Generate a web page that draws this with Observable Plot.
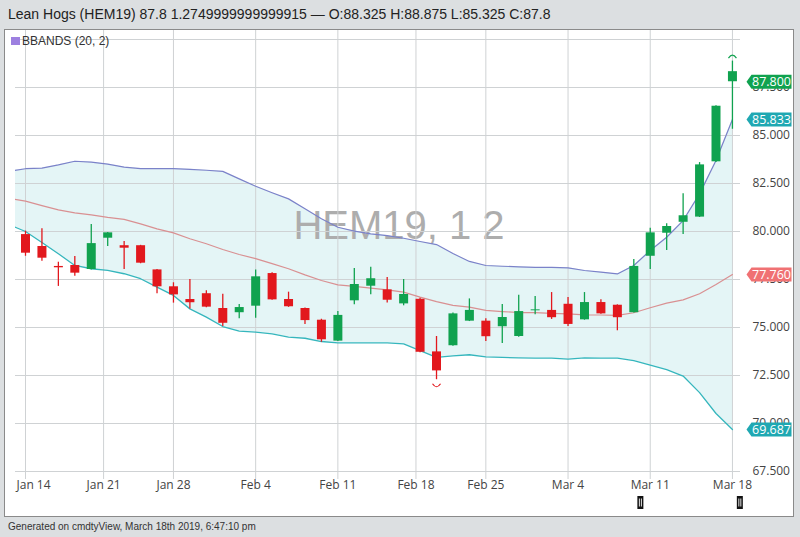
<!DOCTYPE html>
<html><head><meta charset="utf-8">
<script src="https://cdn.jsdelivr.net/npm/d3@7"></script>
<script src="https://cdn.jsdelivr.net/npm/@observablehq/plot@0.6"></script>
<style>
html,body{margin:0;padding:0;background:#dcdfe1;width:800px;height:537px;overflow:hidden;font-family:"Liberation Sans",Arial,sans-serif;}
#header{position:absolute;left:8px;top:4px;font-size:14px;color:#222;line-height:20px;white-space:nowrap;}
#panel{position:absolute;left:4px;top:29px;width:788px;height:486px;background:#fff;border:1px solid #8a8a8a;}
#panel svg{position:absolute;left:0;top:0;}
#legend{position:absolute;left:6px;top:4px;font-size:12px;color:#333;line-height:15px;white-space:nowrap;}
#legend span.sw{display:inline-block;width:9px;height:8px;background:#9d80e0;margin-right:2px;vertical-align:0px;}
#footer{position:absolute;left:8px;top:521px;font-size:10px;color:#333;white-space:nowrap;}
</style></head>
<body>
<div id="header">Lean Hogs (HEM19) 87.8 1.2749999999999915 — O:88.325 H:88.875 L:85.325 C:87.8</div>
<div id="panel"><div id="chart"></div><div id="legend"><span class="sw"></span>BBANDS (20, 2)</div></div>
<div id="footer">Generated on cmdtyView, March 18th 2019, 6:47:10 pm</div>
<script>
// ---- data ----
const dates = ["2019-01-14","2019-01-15","2019-01-16","2019-01-17","2019-01-18","2019-01-22","2019-01-23","2019-01-24","2019-01-25","2019-01-28","2019-01-29","2019-01-30","2019-01-31","2019-02-01","2019-02-04","2019-02-05","2019-02-06","2019-02-07","2019-02-08","2019-02-11","2019-02-12","2019-02-13","2019-02-14","2019-02-15","2019-02-19","2019-02-20","2019-02-21","2019-02-22","2019-02-25","2019-02-26","2019-02-27","2019-02-28","2019-03-01","2019-03-04","2019-03-05","2019-03-06","2019-03-07","2019-03-08","2019-03-11","2019-03-12","2019-03-13","2019-03-14","2019-03-15","2019-03-18"];
const open  = [79.84,79.22,78.18,78.23,78.02,79.65,79.26,79.26,78.00,77.12,76.46,76.76,75.99,75.77,76.11,77.81,76.46,75.99,75.38,74.29,76.39,77.15,76.96,76.23,76.47,73.73,74.05,75.33,75.33,75.04,74.53,75.87,75.89,76.21,75.40,76.30,76.16,75.77,78.71,79.91,80.48,80.75,83.63,88.325];
const high  = [80.02,80.14,78.40,78.70,80.36,79.95,79.48,79.28,78.02,77.33,77.50,76.91,76.73,76.20,78.00,77.85,76.84,76.01,75.43,75.83,78.07,78.14,77.60,77.50,76.52,74.53,75.75,76.49,75.45,76.20,76.68,76.61,76.82,76.56,76.82,76.44,76.18,78.54,80.17,80.40,81.96,83.59,86.55,88.875];
const low   = [78.71,78.45,77.14,77.67,78.00,79.22,78.02,78.32,76.76,76.27,75.97,76.03,75.05,75.45,75.48,76.42,76.05,75.16,74.23,74.27,76.18,76.70,76.27,76.13,73.69,72.28,74.03,75.31,74.27,74.17,74.49,75.66,75.42,75.05,75.38,75.69,74.83,75.75,78.02,79.01,79.84,80.73,83.60,85.325];
const close = [78.87,78.61,78.11,77.83,79.37,79.93,79.13,78.35,77.12,76.70,76.29,76.06,75.22,76.04,77.64,76.44,76.08,75.36,74.36,75.63,77.24,77.54,76.42,76.72,73.71,72.74,75.71,75.89,74.52,75.52,75.83,75.92,75.51,75.16,76.30,75.71,75.51,78.18,79.93,80.26,80.82,83.47,86.525,87.8];

// Bollinger bands (20, 2); first value is the session before Jan 14
const bandStartDate = "2019-01-11";
const upper  = [83.13,83.27,83.30,83.47,83.66,83.61,83.51,83.35,83.28,83.27,83.27,83.24,83.19,83.13,82.74,82.36,82.02,81.70,81.18,80.66,80.22,80.02,79.88,79.79,79.65,79.48,79.32,78.85,78.44,78.23,78.19,78.16,78.13,78.13,78.11,77.97,77.88,77.79,78.23,79.01,79.70,80.57,81.96,83.70,85.833];
const middle = [81.72,81.58,81.35,81.13,80.97,80.87,80.74,80.63,80.40,80.14,79.93,79.62,79.36,79.06,78.80,78.59,78.33,78.06,77.74,77.45,77.22,77.14,77.05,76.96,76.84,76.58,76.35,76.15,76.06,75.89,75.83,75.78,75.77,75.74,75.71,75.66,75.65,75.63,75.77,76.03,76.27,76.44,76.76,77.24,77.76];
const lower  = [80.36,80.00,79.43,78.84,78.23,78.06,77.97,77.80,77.54,77.10,76.67,75.97,75.54,75.05,74.81,74.76,74.67,74.50,74.44,74.27,74.20,74.20,74.20,74.20,74.15,73.80,73.44,73.52,73.58,73.47,73.44,73.42,73.41,73.40,73.35,73.42,73.41,73.40,73.28,73.04,72.81,72.47,71.61,70.52,69.687];

const tickDates  = ["2019-01-14","2019-01-21","2019-01-28","2019-02-04","2019-02-11","2019-02-18","2019-02-25","2019-03-04","2019-03-11","2019-03-18"];
const tickLabels = ["Jan 14","Jan 21","Jan 28","Feb 4","Feb 11","Feb 18","Feb 25","Mar 4","Mar 11","Mar 18"];
const yTicks = [67.5,70,72.5,75,77.5,80,82.5,85,87.5];
const yGrid  = [67.5,70,72.5,75,77.5,80,82.5,85,87.5,90];
const eventPos = [37.4, 43.45]; // event markers under the axis (session index)
const symbolName = "HEM19, 1 2";

// ---- derived ----
const GREEN = "#10a24f", RED = "#e2181d";
const candles = dates.map((d, i) => {
  const prev = i > 0 ? close[i - 1] : open[i];
  return {i, d, o: open[i], h: high[i], l: low[i], c: close[i], col: close[i] >= prev ? GREEN : RED};
});
const bands = [bandStartDate, ...dates].map((d, k) => ({i: k - 1, upper: upper[k], middle: middle[k], lower: lower[k]}));
const tickPos = tickDates.map(t => {
  const k = dates.indexOf(t);
  if (k >= 0) return k;
  return dates.findIndex(d => d > t) - 0.25;
});
const ticks = tickPos.map((p, k) => ({p, label: tickLabels[k]}));
const last = bands[bands.length - 1];
const badges = [
  {v: close[close.length - 1], col: GREEN},
  {v: last.upper, col: "#1fa8b2"},
  {v: last.middle, col: "#f07173"},
  {v: last.lower, col: "#1fa8b2"}
];
const hiIdx = d3.maxIndex(high), loIdx = d3.minIndex(low);
const extremes = [
  {i: hiIdx, y: high[hiIdx], col: candles[hiIdx].col, kind: "hi"},
  {i: loIdx, y: low[loIdx], col: candles[loIdx].col, kind: "lo"}
];

const frown = {draw(ctx){ ctx.moveTo(-4, 2); ctx.quadraticCurveTo(0, -4, 4, 2); }};
const smile = {draw(ctx){ ctx.moveTo(-4, -2); ctx.quadraticCurveTo(0, 4, 4, -2); }};
const badgeShape = {draw(ctx){ ctx.moveTo(6, 0); ctx.lineTo(11, -7); ctx.lineTo(51, -7); ctx.lineTo(51, 7); ctx.lineTo(11, 7); ctx.closePath(); }};
const iconBox = {draw(ctx){ ctx.moveTo(-3, -6.5); ctx.lineTo(3, -6.5); ctx.lineTo(3, 6.5); ctx.lineTo(-3, 6.5); ctx.closePath(); }};
const iconBars = {draw(ctx){ ctx.moveTo(-1, -4); ctx.lineTo(-1, 4); ctx.moveTo(1, -4); ctx.lineTo(1, 4); }};

const W = 788, H = 486;
const chart = Plot.plot({
  width: W, height: H,
  marginLeft: 10, marginRight: 53, marginTop: 0, marginBottom: 45,
  style: {fontFamily: "'Open Sans', sans-serif", fontSize: "12px", color: "#444", background: "transparent", overflow: "visible"},
  x: {domain: [-0.608, 43.49], axis: null},
  y: {domain: [67.5, 90.469], axis: "right", ticks: yTicks, tickFormat: d3.format(".3f"), tickSize: 0, tickPadding: 12, label: null},
  color: {type: "identity"},
  marks: [
    Plot.areaY(bands, {x: "i", y1: "lower", y2: "upper", fill: "#e4f5f6", clip: true}),
    Plot.text([symbolName], {frameAnchor: "middle", dx: 21, dy: -25, fontSize: 40, fontFamily: "'Liberation Sans', Arial, sans-serif", fill: "#adadad", text: d => d}),
    Plot.ruleY(yGrid, {stroke: "#cfd2d4", strokeWidth: 1}),
    Plot.ruleX(tickPos, {stroke: "#cfd2d4", strokeWidth: 1, insetBottom: -8}),
    // x tick labels (first one is pushed right so it stays inside the frame)
    Plot.text(ticks.slice(0, 1), {x: "p", text: "label", frameAnchor: "bottom", lineAnchor: "top", dy: 9, dx: -9, textAnchor: "start", fill: "#444"}),
    Plot.text(ticks.slice(1), {x: "p", text: "label", frameAnchor: "bottom", lineAnchor: "top", dy: 9, textAnchor: "middle", fill: "#444"}),
    Plot.line(bands, {x: "i", y: "upper", stroke: "#7b82c9", strokeWidth: 1.2, clip: true}),
    Plot.line(bands, {x: "i", y: "middle", stroke: "#d99092", strokeWidth: 1.2, clip: true}),
    Plot.line(bands, {x: "i", y: "lower", stroke: "#35b6bd", strokeWidth: 1.3, clip: true}),
    Plot.ruleX(candles, {x: "i", y1: "l", y2: "h", stroke: "col", strokeWidth: 1.3}),
    Plot.ruleX(candles, {x: "i", y1: "o", y2: "c", stroke: "col", strokeWidth: 9}),
    Plot.dot(extremes.filter(e => e.kind === "hi"), {x: "i", y: "y", dy: -5, symbol: frown, fill: "none", stroke: "col", strokeWidth: 1.2}),
    Plot.dot(extremes.filter(e => e.kind === "lo"), {x: "i", y: "y", dy: 6, symbol: smile, fill: "none", stroke: "col", strokeWidth: 1.2}),
    Plot.dot(badges, {y: "v", frameAnchor: "right", symbol: badgeShape, fill: "col", stroke: "none"}),
    Plot.text(badges, {y: "v", frameAnchor: "right", dx: 31, text: d => d.v.toFixed(3), fill: "white", fontSize: 12.5, textAnchor: "middle"}),
    Plot.dot(eventPos, {x: d => d, frameAnchor: "bottom", dy: 31, symbol: iconBox, fill: "#111", stroke: "none"}),
    Plot.dot(eventPos, {x: d => d, frameAnchor: "bottom", dy: 31, symbol: iconBars, fill: "none", stroke: "white", strokeWidth: 0.9})
  ]
});
document.getElementById("chart").appendChild(chart);
</script>
</body></html>
